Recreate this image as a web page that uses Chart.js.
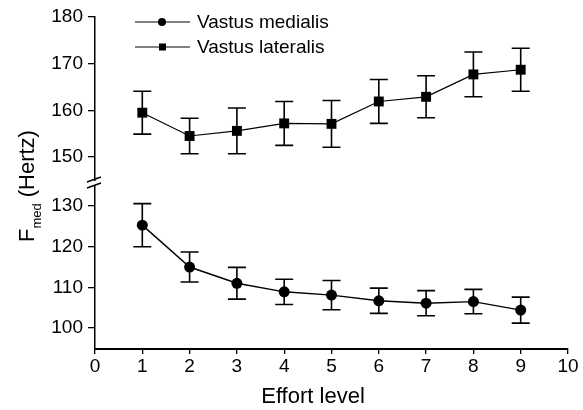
<!DOCTYPE html>
<html>
<head>
<meta charset="utf-8">
<script src="https://cdn.jsdelivr.net/npm/chart.js@4"></script>
<style>
  html, body { margin: 0; padding: 0; background: #fff; }
</style>
</head>
<body>
<canvas id="chart" width="583" height="410"></canvas>
<script>
const effortLevels = [1, 2, 3, 4, 5, 6, 7, 8, 9]
const medialis = [125.3, 115.0, 111.0, 108.9, 108.1, 106.7, 106.1, 106.5, 104.4]
const medialisErr = [5.3, 3.7, 3.9, 3.1, 3.6, 3.1, 3.1, 3.0, 3.2]
const lateralis = [159.5, 154.5, 155.6, 157.2, 157.1, 161.9, 162.9, 167.7, 168.7]
const lateralisErr = [4.6, 3.8, 4.9, 4.7, 5.0, 4.7, 4.5, 4.8, 4.6]
const seriesNames = ['Vastus medialis', 'Vastus lateralis']
const xTitle = 'Effort level'

const FONT = '"Liberation Sans", Arial, Helvetica, sans-serif'

const toXY = (ys) => effortLevels.map((x, i) => ({x: x, y: ys[i]}))

// error bars, drawn under the markers
const errorBars = {
  id: 'errorBars',
  beforeDatasetsDraw(chart) {
    const ctx = chart.ctx
    const xs = chart.scales.x
    ctx.save()
    ctx.strokeStyle = '#000'
    ctx.lineWidth = 1.6
    chart.data.datasets.forEach(ds => {
      const ys = chart.scales[ds.yAxisID]
      ds.data.forEach((p, i) => {
        const px = xs.getPixelForValue(p.x)
        const top = ys.getPixelForValue(p.y + ds.err[i])
        const bot = ys.getPixelForValue(p.y - ds.err[i])
        ctx.beginPath()
        ctx.moveTo(px, top); ctx.lineTo(px, bot)
        ctx.moveTo(px - 9, top); ctx.lineTo(px + 9, top)
        ctx.moveTo(px - 9, bot); ctx.lineTo(px + 9, bot)
        ctx.stroke()
      })
    })
    ctx.restore()
  }
}

// axis break, legend and axis titles
const decorations = {
  id: 'decorations',
  afterDraw(chart) {
    const ctx = chart.ctx
    const area = chart.chartArea
    const hi = chart.scales.yHigh
    const mid = hi.bottom
    ctx.save()

    // break in the y axis
    ctx.fillStyle = '#fff'
    ctx.fillRect(area.left - 3, mid - 2, 6, 4)
    ctx.strokeStyle = '#000'
    ctx.lineWidth = 1.4
    ctx.beginPath()
    ctx.moveTo(area.left - 8, mid - 1); ctx.lineTo(area.left + 6, mid - 6)
    ctx.moveTo(area.left - 8, mid + 5); ctx.lineTo(area.left + 6, mid)
    ctx.stroke()

    // legend
    chart.data.datasets.forEach((ds, i) => {
      const y = 22 + i * 25
      const x0 = area.left + 40
      ctx.strokeStyle = '#000'
      ctx.lineWidth = 1.2
      ctx.beginPath()
      ctx.moveTo(x0, y); ctx.lineTo(x0 + 55, y)
      ctx.stroke()
      ctx.fillStyle = '#000'
      if (ds.pointStyle === 'circle') {
        ctx.beginPath()
        ctx.arc(x0 + 27, y, 4, 0, Math.PI * 2)
        ctx.fill()
      } else {
        ctx.fillRect(x0 + 24, y - 3.5, 7, 7)
      }
      ctx.font = '19px ' + FONT
      ctx.textBaseline = 'middle'
      ctx.textAlign = 'left'
      ctx.fillText(ds.label, x0 + 62, y + 1)
    })

    // x title
    ctx.font = '22px ' + FONT
    ctx.textAlign = 'center'
    ctx.textBaseline = 'alphabetic'
    ctx.fillText(xTitle, 313, 403)

    // y title: F with "med" subscript, then (Hertz)
    ctx.translate(34, 242)
    ctx.rotate(-Math.PI / 2)
    ctx.textAlign = 'left'
    ctx.font = '22px ' + FONT
    ctx.fillText('F', 0, 0)
    let w = ctx.measureText('F').width
    ctx.font = '13px ' + FONT
    ctx.fillText('med', w, 7)
    w += ctx.measureText('med').width + 6
    ctx.font = '22px ' + FONT
    ctx.fillText('(Hertz)', w, 0)
    ctx.restore()
  }
}

const tickFont = {family: FONT, size: 19}

const yAxis = (min, max) => ({
  type: 'linear',
  position: 'left',
  stack: 'y',
  stackWeight: 1,
  min: min,
  max: max,
  ticks: {stepSize: 10, includeBounds: false, color: '#000', font: tickFont, padding: 5},
  grid: {drawOnChartArea: false, tickLength: 7, color: '#000', lineWidth: 1.3},
  border: {color: '#000', width: 1.5},
  afterFit: s => { s.width = 95 }
})

new Chart(document.getElementById('chart'), {
  type: 'scatter',
  data: {
    datasets: [
      {
        label: seriesNames[0],
        data: toXY(medialis),
        err: medialisErr,
        yAxisID: 'yLow',
        showLine: true,
        borderColor: '#000',
        borderWidth: 1.4,
        backgroundColor: '#000',
        pointStyle: 'circle',
        pointRadius: 5.5,
        pointBorderWidth: 0
      },
      {
        label: seriesNames[1],
        data: toXY(lateralis),
        err: lateralisErr,
        yAxisID: 'yHigh',
        showLine: true,
        borderColor: '#000',
        borderWidth: 1.2,
        backgroundColor: '#000',
        pointStyle: 'rect',
        pointRadius: 7,
        pointBorderWidth: 0
      }
    ]
  },
  options: {
    responsive: false,
    animation: false,
    layout: {padding: {top: 17, right: 15, left: 0, bottom: 0}},
    plugins: {legend: {display: false}, tooltip: {enabled: false}},
    scales: {
      x: {
        type: 'linear',
        min: 0,
        max: 10,
        ticks: {stepSize: 1, color: '#000', font: tickFont, padding: 1},
        grid: {drawOnChartArea: false, tickLength: 5, color: '#000', lineWidth: 1.3},
        border: {color: '#000', width: 2},
        afterFit: s => { s.height = 61 }
      },
      yLow: yAxis(94.84, 135.66),
      yHigh: yAxis(144.43, 180)
    }
  },
  plugins: [errorBars, decorations]
})
</script>
</body>
</html>
